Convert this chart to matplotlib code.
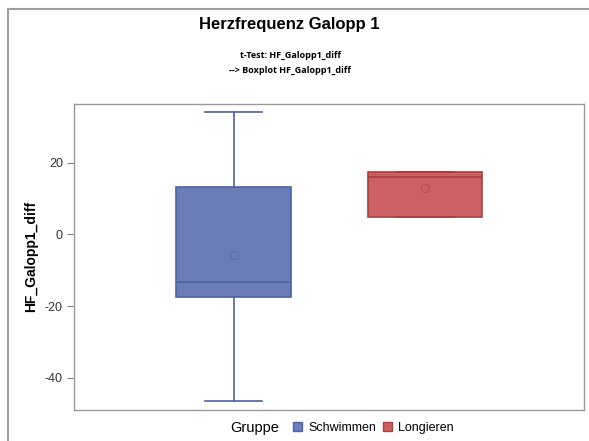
import matplotlib
matplotlib.use("Agg")
import matplotlib.pyplot as plt
from matplotlib.patches import Patch
from matplotlib.lines import Line2D

plt.rcParams['font.family'] = ['Liberation Sans', 'DejaVu Sans']

groups = ["Schwimmen", "Longieren"]
whislo = [-46.6, 5.0]
q1 = [-17.4, 5.0]
median = [-13.2, 16.1]
q3 = [13.3, 17.5]
whishi = [34.1, 17.5]
means = [-5.8, 12.85]
fills = ["#6a7db6", "#cd6060"]
edges = ["#4b62a3", "#a8403f"]
yticks = [-40, -20, 0, 20]

W, H = 589, 441
fig = plt.figure(figsize=(W / 100, H / 100), dpi=100)
ax = fig.add_axes([74 / W, 1 - 409.7 / H, (584 - 74) / W, (409.7 - 104) / H])

for i, g in enumerate(groups):
    st = [dict(label=g, whislo=whislo[i], q1=q1[i], med=median[i], q3=q3[i],
               whishi=whishi[i], mean=means[i], fliers=[])]
    ax.bxp(st, positions=[i], widths=0.6, patch_artist=True, showmeans=True,
           showfliers=False, capwidths=0.3,
           boxprops=dict(facecolor=fills[i], edgecolor=edges[i], linewidth=1.2),
           medianprops=dict(color=edges[i], linewidth=1.2),
           whiskerprops=dict(color=edges[i], linewidth=1.2),
           capprops=dict(color=edges[i], linewidth=1.2),
           meanprops=dict(marker='o', markerfacecolor='none',
                          markeredgecolor=edges[i], markersize=6, markeredgewidth=0.5,
                          alpha=0.8))

ax.set_xlim(-0.833, 1.830)
ax.set_ylim(-48.9, 36.4)
ax.set_xticks([])
ax.set_yticks(yticks)
ax.set_yticklabels([str(t) for t in yticks], fontsize=9, color='#333333')
ax.tick_params(axis='y', direction='out', length=5, color='#888888', pad=3)
for s in ax.spines.values():
    s.set_color('#999999')
    s.set_linewidth(1.0)
ax.set_ylabel("HF_Galopp1_diff", fontsize=10, fontweight='bold', labelpad=5)

# outer frame lines
fig.add_artist(Line2D([7.5 / W, 1], [1 - 8.5 / H, 1 - 8.5 / H], color='#a0a0a0', lw=1.5))
fig.add_artist(Line2D([7.5 / W, 7.5 / W], [0, 1 - 8.5 / H], color='#a0a0a0', lw=1.5))

fig.text(289 / W, 1 - 25 / H, "Herzfrequenz Galopp 1", fontsize=12, fontweight='bold',
         ha='center', va='center')
fig.text(290 / W, 1 - 55 / H, "t-Test: HF_Galopp1_diff", fontsize=6.5, fontweight='bold',
         ha='center', va='center', family=['Open Sans', 'DejaVu Sans'])
fig.text(290 / W, 1 - 70 / H, "--> Boxplot HF_Galopp1_diff", fontsize=6.5, fontweight='bold',
         ha='center', va='center', family=['Open Sans', 'DejaVu Sans'])

fig.text(230 / W, 1 - 428 / H, "Gruppe", fontsize=10.5, ha='left', va='center')
handles = [Patch(facecolor=fills[i], edgecolor=edges[i], label=groups[i]) for i in range(2)]
fig.legend(handles=handles, loc='center left', bbox_to_anchor=(293 / W, 1 - 428 / H),
           ncol=2, frameon=False, fontsize=9, handlelength=0.7, handleheight=0.7,
           handletextpad=0.5, columnspacing=0.6, borderaxespad=0, borderpad=0)

fig.savefig("out.png", dpi=100)
